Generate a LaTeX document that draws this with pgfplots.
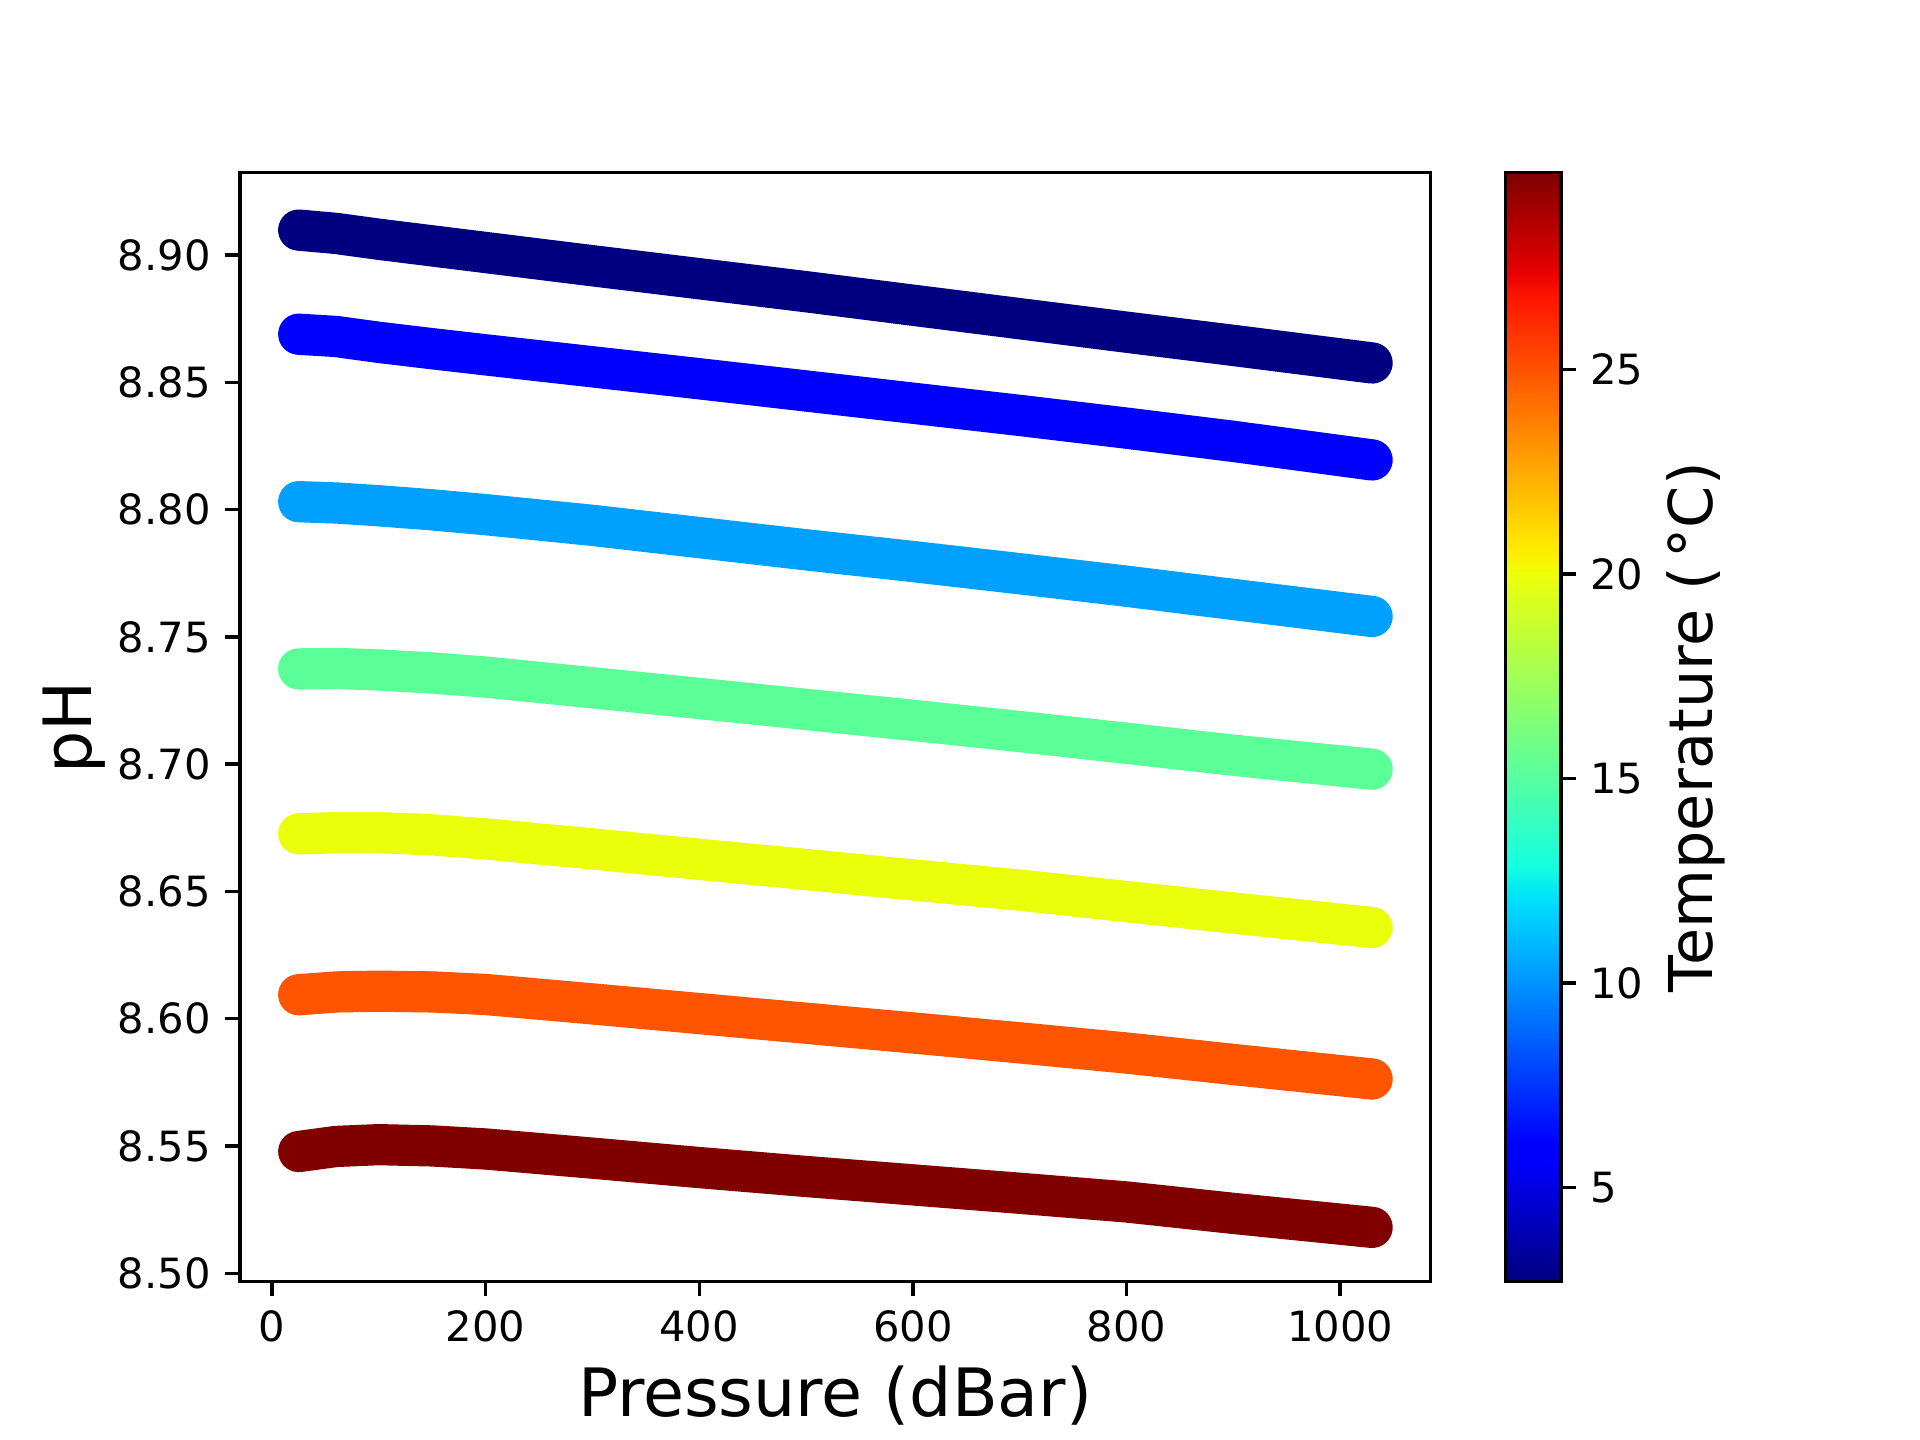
\documentclass[border=0pt]{standalone}
\usepackage{fontspec}
\setmainfont{DejaVu Sans}
\usepackage{pgfplots}
\pgfplotsset{compat=1.18}
\definecolor{sNavy}{RGB}{0,0,128}
\definecolor{sBlue}{RGB}{0,0,255}
\definecolor{sLight}{RGB}{0,160,255}
\definecolor{sGreen}{RGB}{90,255,152}
\definecolor{sYellow}{RGB}{236,255,10}
\definecolor{sOrange}{RGB}{255,85,0}
\definecolor{sRed}{RGB}{128,0,0}
\begin{document}
\begin{tikzpicture}
\path[use as bounding box] (0,0) rectangle (460.8pt,345.6pt);
\begin{axis}[
  at={(57.6pt,38.016pt)}, anchor=south west,
  scale only axis, width=285.7pt, height=266.1pt,
  xmin=-30, xmax=1084.6, ymin=8.4967, ymax=8.9323,
  xtick={0,200,400,600,800,1000},
  ytick={8.50,8.55,8.60,8.65,8.70,8.75,8.80,8.85,8.90},
  /pgf/number format/1000 sep={},
  /pgf/number format/assume math mode=true,
  yticklabel style={/pgf/number format/.cd,fixed,fixed zerofill,precision=2},
  tick align=outside, xtick pos=bottom, ytick pos=left,
  major tick length=3.5pt,
  every tick/.style={black, line width=0.8pt},
  axis line style={line width=0.8pt},
  tick label style={font=\fontsize{10}{12}\selectfont},
  xlabel={Pressure (dBar)}, ylabel={pH},
  label style={font=\fontsize{16}{19}\selectfont},
  xlabel style={at={(axis description cs:0.5,-0.1219)}, anchor=base},
  ylabel style={at={(axis description cs:-0.1244,0.5)}, anchor=base},
  colormap={mpljet}{rgb(0pt)=(0,0,0.5); rgb(110pt)=(0,0,1); rgb(125pt)=(0,0,1);
    rgb(340pt)=(0,0.86,1); rgb(350pt)=(0,0.9,0.9677); rgb(375pt)=(0.0806,1,0.8871);
    rgb(640pt)=(0.9355,1,0.0323); rgb(650pt)=(0.9677,0.963,0); rgb(660pt)=(1,0.926,0);
    rgb(890pt)=(1,0.0741,0); rgb(910pt)=(0.9091,0,0); rgb(1000pt)=(0.5,0,0)},
  colorbar,
  point meta min=2.70, point meta max=29.81,
  colorbar style={
    at={(parent axis.north east)}, anchor=north west, xshift=9.5pt,
    scale only axis, width=13.3pt, height=266.1pt,
    ytick={5,10,15,20,25},
    tick align=outside, ytick pos=right, yticklabel pos=right,
    major tick length=3.5pt,
    every tick/.style={black, line width=0.8pt},
    axis line style={line width=0.8pt},
    /pgf/number format/assume math mode=true,
    yticklabel style={font=\fontsize{10}{12}\selectfont},
    ylabel={Temperature (\kern2pt°C)},
    ylabel style={font=\fontsize{14.5}{17}\selectfont, at={(axis description cs:3.734,0.5)}, anchor=base},
  },
  every axis plot/.append style={line width=9.9pt, line cap=round, line join=round},
]
\addplot[sNavy] coordinates {(25,8.9098) (60,8.9085) (100,8.9062) (200,8.9010) (300,8.8958) (400,8.8907) (500,8.8856) (600,8.8803) (700,8.8750) (800,8.8697) (900,8.8645) (1030,8.8576)};
\addplot[sBlue] coordinates {(25,8.8689) (60,8.8680) (100,8.8657) (150,8.8632) (200,8.8608) (300,8.8561) (400,8.8514) (500,8.8466) (600,8.8418) (700,8.8370) (800,8.8320) (900,8.8268) (1030,8.8195)};
\addplot[sLight] coordinates {(25,8.8031) (60,8.8026) (100,8.8015) (150,8.7999) (200,8.7980) (300,8.7938) (400,8.7890) (500,8.7842) (600,8.7796) (700,8.7748) (800,8.7699) (900,8.7647) (1030,8.7580)};
\addplot[sGreen] coordinates {(25,8.7374) (60,8.7376) (100,8.7370) (150,8.7358) (200,8.7342) (300,8.7300) (400,8.7258) (500,8.7215) (600,8.7172) (700,8.7128) (800,8.7082) (900,8.7035) (1030,8.6980)};
\addplot[sYellow] coordinates {(25,8.6726) (60,8.6731) (100,8.6731) (150,8.6722) (200,8.6706) (300,8.6667) (400,8.6626) (500,8.6586) (600,8.6545) (700,8.6505) (800,8.6460) (900,8.6415) (1030,8.6358)};
\addplot[sOrange] coordinates {(25,8.6094) (60,8.6105) (100,8.6108) (150,8.6105) (200,8.6095) (300,8.6058) (400,8.6020) (500,8.5982) (600,8.5944) (700,8.5905) (800,8.5865) (900,8.5820) (1030,8.5763)};
\addplot[sRed] coordinates {(25,8.5478) (60,8.5498) (100,8.5505) (150,8.5500) (200,8.5488) (300,8.5452) (400,8.5415) (500,8.5380) (600,8.5347) (700,8.5314) (800,8.5280) (900,8.5235) (1030,8.5180)};
\end{axis}
\end{tikzpicture}
\end{document}
